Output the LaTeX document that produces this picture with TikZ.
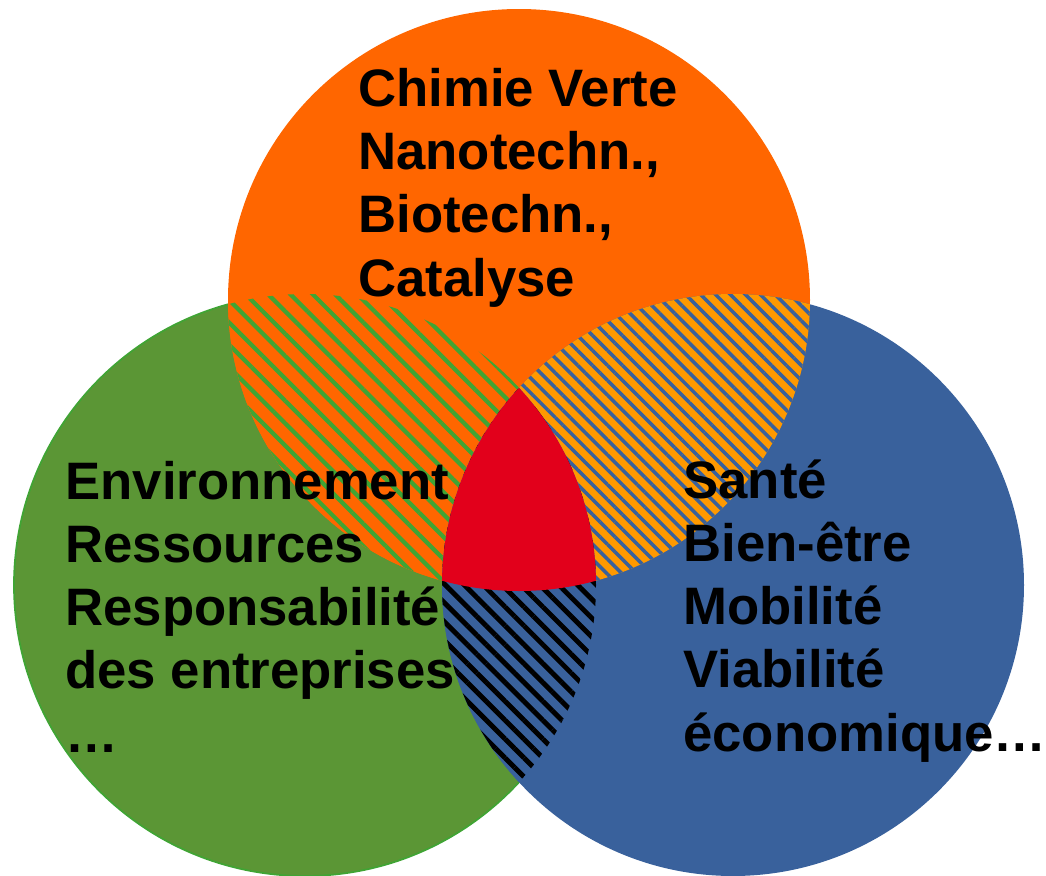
\documentclass[tikz,border=0pt]{standalone}
\usepackage{fontspec}
\setmainfont{Liberation Sans}
\usetikzlibrary{patterns.meta}
\definecolor{vorange}{RGB}{255,102,0}
\definecolor{vlight}{RGB}{255,153,0}
\definecolor{vgreen}{RGB}{91,150,53}
\definecolor{vgreenlt}{RGB}{64,164,52}
\definecolor{vblue}{RGB}{57,97,156}
\definecolor{vred}{RGB}{226,0,27}
\tikzset{
    venntext/.style = {anchor=base west, inner sep=0, align=left,
        font=\fontsize{30}{35.9}\selectfont\bfseries},
    stripes/.style n args = {3}{pattern={Lines[angle=-45,distance=#1,line width=#2]},
        pattern color=#3}
}
\begin{document}
\begin{tikzpicture}[x=0.02cm, y=-0.02cm]
    \useasboundingbox (0,0) rectangle (1046,876);
    \coordinate (o) at (519,300);
    \coordinate (g) at (305,585);
    \coordinate (b) at (733,585);
    \filldraw[fill=vgreen, draw=vgreenlt, line width=1pt] (g) circle[radius=291];
    \fill[vorange] (o) circle[radius=291];
    \fill[vblue] (b) circle[radius=291];
    \begin{scope}
        \clip (o) circle[radius=291];
        \path[preaction={fill=vorange}, stripes={9pt}{2.4pt}{vgreenlt}] (g) circle[radius=291];
        \path[preaction={fill=vlight}, stripes={6pt}{2pt}{vblue}] (b) circle[radius=291];
    \end{scope}
    \begin{scope}
        \clip (g) circle[radius=291];
        \path[preaction={fill=vblue}, stripes={7.6pt}{2.8pt}{black}] (b) circle[radius=291];
        \clip (o) circle[radius=291];
        \fill[vred] (b) circle[radius=291];
    \end{scope}
    \node[venntext] (chimie) at (358,296) {Chimie Verte\\Nanotechn.,\\Biotechn.,\\Catalyse};
    \node[venntext] (env) at (65,752) {Environnement\\Ressources\\Responsabilité\\des entreprises\\…};
    \node[venntext] (sante) at (683,751) {Santé\\Bien-être\\Mobilité\\Viabilité\\économique…};
\end{tikzpicture}
\end{document}
